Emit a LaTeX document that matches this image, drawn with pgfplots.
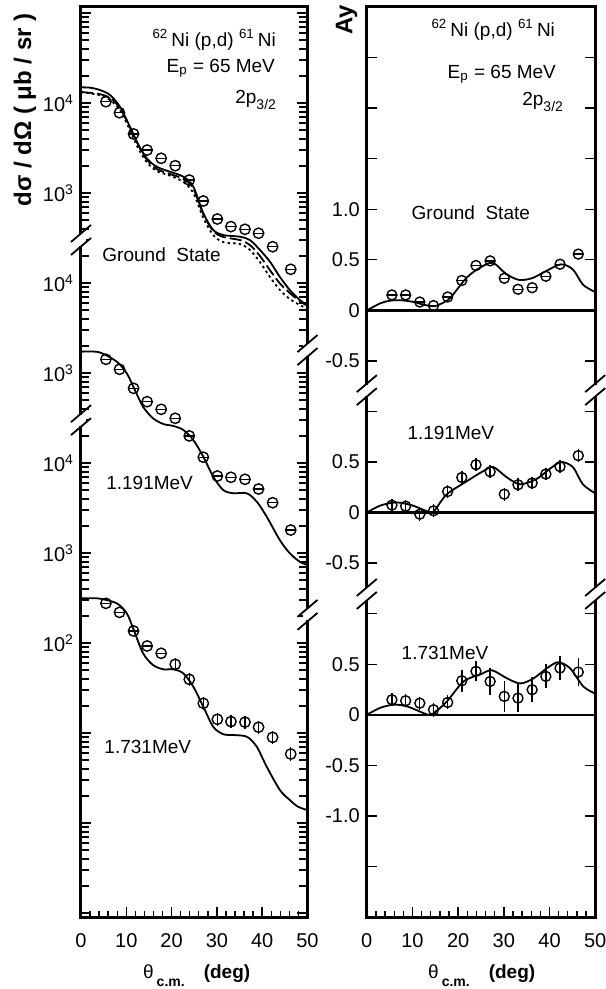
\documentclass[border=0pt]{standalone}
\usepackage{fontspec}
\setmainfont{Liberation Sans}
\usepackage{pgfplots}
\usepackage{pgfplotstable}
\pgfplotsset{compat=1.18}

% cross sections (mub/sr)
\pgfplotstableread{
th s
5.5 10330
8.5 7800
11.6 4530
14.6 3000
17.7 2430
20.8 2010
23.9 1394
27.0 815
30.1 514
33.1 423
36.2 395
39.2 357
42.3 253
46.3 142
}\gsxs
\pgfplotstableread{
th s
0 14930
2 14800
4.2 13930
6.4 12270
8.6 9100
10.8 5460
12.7 3415
14.5 2430
16.7 1960
19.6 1725
22.6 1518
24.8 1175
27.0 595
29.2 388
31.4 341
35.1 327
37.3 300
39.5 233
41.7 173
43.9 117
46.1 83.6
48.3 64.7
50 57
}\gssolid
\pgfplotstableread{
th s
0 13250
4 12590
6.4 11370
8.6 8800
10.8 5350
12.7 3370
14.5 2357
16.7 1848
19.6 1626
22.6 1431
24.8 1122
27.0 584
29.2 378
31.4 325
35.1 300
37.3 264
39.5 200
41.7 139
43.9 99
46.1 77.4
48.3 63
50 55.5
}\gsdash
\pgfplotstableread{
th s
0 13250
4 12270
6.4 10790
8.6 8360
10.8 5010
12.7 3085
14.5 2210
16.7 1755
19.6 1564
22.6 1326
24.8 1000
27.0 528
29.2 341
31.4 285
35.1 271
37.3 233
39.5 171
41.7 117
43.9 83.6
46.1 66.4
48.3 57
50 51.4
}\gsdot
\pgfplotstableread{
th s
5.5 1420
8.5 1100
11.6 676
14.6 480
17.7 395
20.8 314
23.9 200
27.0 116
30.1 71.7
33.1 69.4
36.2 65.9
39.2 51.4
42.3 36.2
46.3 18
}\ixs
\pgfplotstableread{
th s
0 1725
4 1700
7.9 1336
10.1 993
11.9 647
13.7 422
15.9 314
18.2 271
20.4 258
22.6 233
24.8 180
27.0 117.5
29.2 70.4
31.4 50.1
33.6 46.1
36.6 46.1
38.8 37.2
41.0 25.3
43.9 13.9
46.1 9.93
48.3 8.0
50 7.35
}\icurve
\pgfplotstableread{
th s
5.5 276
8.5 219
11.6 136
14.6 92.7
17.7 76.9
20.8 58
23.9 39.5
27.0 21.4
30.1 14.2
33.1 13.4
36.2 13.2
39.2 11.6
42.3 8.95
46.3 5.84
}\iixs
\pgfplotstableread{
th s
0 314
4 312
7.9 276
10.1 214
11.5 146
13.7 77
15.9 57
18.2 51
20.4 51
22.6 46
24.8 32.7
27.0 19.6
29.2 11.7
31.4 9.7
33.6 9.5
36.6 9.1
38.8 7.05
41.0 4.22
43.9 2.33
46.1 1.8
47.9 1.52
50 1.39
}\iicurve

% analysing powers
\pgfplotstableread{
th ay
5.5 0.152
8.5 0.152
11.6 0.082
14.6 0.047
17.7 0.132
20.8 0.295
23.9 0.443
27.0 0.489
30.1 0.317
33.1 0.208
36.2 0.224
39.2 0.337
42.3 0.456
46.3 0.556
}\gsay
\pgfplotstableread{
th ay
0 0
3 0.07
5 0.095
7.3 0.1
10 0.085
12.5 0.055
14.6 0.04
16 0.06
18.2 0.12
21.8 0.32
24.7 0.42
27.6 0.47
30.5 0.36
33.4 0.30
36.3 0.32
39.3 0.39
42.5 0.455
45.1 0.405
47.3 0.255
49.6 0.19
50 0.185
}\gsaycurve
\pgfplotstableread{
th ay
5.5 0.073
8.5 0.063
11.6 -0.016
14.6 0.017
17.7 0.208
20.8 0.347
23.9 0.473
27.0 0.404
30.1 0.182
33.1 0.275
36.2 0.292
39.2 0.381
42.3 0.454
46.3 0.563
}\iay
\pgfplotstableread{
th ay
0 0
3 0.07
6.5 0.1
10 0.07
14 0.0
15 0.03
17.5 0.18
21.9 0.31
25.5 0.41
27.7 0.45
30.6 0.35
33.5 0.28
37.1 0.33
40 0.43
42.5 0.5
45.1 0.45
47.3 0.28
50 0.19
}\iaycurve
\pgfplotstableread{
th ay e
5.5 0.149 0.025
8.5 0.139 0.025
11.6 0.115 0.025
14.6 0.050 0.03
17.7 0.122 0.03
20.8 0.337 0.07
23.9 0.43 0.06
27.0 0.33 0.09
30.1 0.182 0.11
33.1 0.165 0.10
36.2 0.248 0.085
39.2 0.38 0.08
42.3 0.462 0.08
46.3 0.423 0.10
}\iiay
\pgfplotstableread{
th ay
0 0
3 0.07
6 0.1
9 0.08
13.5 0.0
15 0.03
17.5 0.13
21.2 0.33
24.9 0.40
27.4 0.44
30.7 0.36
33.6 0.31
36.5 0.36
39.4 0.46
41.9 0.52
44.5 0.46
47.4 0.28
50 0.21
}\iiaycurve

\pgfplotsset{
  panel/.style={
    scale only axis, height=455pt, xmin=0, xmax=50, clip=false,
    axis line style={line width=1.5pt},
    xtick={0,10,...,50}, minor xtick={2,4,...,48}, xtick pos=left,
    tick align=inside, major tick length=5pt, minor tick length=2.8pt,
    tick style={line width=0.7pt, black},
    /pgf/number format/assume math mode=true,
    tick label style={font=\fontsize{10}{12}\selectfont},
    xticklabel style={yshift=-4.5pt},
  },
  curve/.style={black, line width=0.9pt, smooth, no marks},
  opn/.style={black, only marks, mark=o, mark size=2.6pt, mark options={line width=0.7pt}},
  hbar/.style={black, only marks, mark=-, mark size=2.6pt, mark options={line width=0.7pt}},
  vbar/.style={black, only marks, mark=|, mark size=3.3pt, mark options={line width=0.7pt}},
}

% axis break mark at a named coordinate
\newcommand{\brk}[1]{%
  \fill[white] ([xshift=-2.4pt,yshift=-2.8pt]#1) rectangle ([xshift=2.4pt,yshift=2.8pt]#1);
  \draw[line width=0.9pt] ([xshift=-5pt,yshift=-7.5pt]#1) -- ([xshift=5pt,yshift=1pt]#1);
  \draw[line width=0.9pt] ([xshift=-5pt,yshift=-1pt]#1) -- ([xshift=5pt,yshift=7.5pt]#1);}

\begin{document}
\begin{tikzpicture}[font=\fontsize{9.5}{11}\selectfont]
\useasboundingbox (0pt,0pt) rectangle (302.5pt,-494.5pt);

% left panel: cross sections, stacked decades
\begin{axis}[panel, at={(40.5pt,-3.5pt)}, anchor=north west, width=113.25pt,
  ymode=log, ymin=0.0903, ymax=1.166e9,
  ytick={1e-1,1,10,100,1000,1e4,1e5,1e6,1e7,1e8,1e9},
  yticklabels={,,,10\textsuperscript{2},10\textsuperscript{3},10\textsuperscript{4},10\textsuperscript{3},10\textsuperscript{4},10\textsuperscript{3},10\textsuperscript{4},}]
\addplot[curve] table[x=th, y expr=\thisrow{s}*1e4] \gssolid;
\addplot[curve, dash pattern=on 6pt off 2pt] table[x=th, y expr=\thisrow{s}*1e4] \gsdash;
\addplot[curve, dash pattern=on 1.2pt off 1.6pt] table[x=th, y expr=\thisrow{s}*1e4] \gsdot;
\addplot[opn] table[x=th, y expr=\thisrow{s}*1e4] \gsxs;
\addplot[hbar] table[x=th, y expr=\thisrow{s}*1e4] \gsxs;
\addplot[curve] table[x=th, y expr=\thisrow{s}*100] \icurve;
\addplot[opn] table[x=th, y expr=\thisrow{s}*100] \ixs;
\addplot[hbar] table[x=th, y expr=\thisrow{s}*100] \ixs;
\addplot[curve] table[x=th, y=s] \iicurve;
\addplot[opn] table[x=th, y=s] \iixs;
\addplot[hbar, restrict x to domain=0:19] table[x=th, y=s] \iixs;
\addplot[vbar, restrict x to domain=19:50] table[x=th, y=s] \iixs;
\coordinate (LA) at (rel axis cs:0,0.744);
\coordinate (LB) at (rel axis cs:0,0.546);
\coordinate (LC) at (rel axis cs:1,0.623);
\coordinate (LD) at (rel axis cs:1,0.332);
\coordinate (LBL) at (rel axis cs:0,0);
\coordinate (LBR) at (rel axis cs:1,0);
\end{axis}

% log minor ticks of the left panel, 45pt per decade, from ymin = 10^-1.0443
\foreach \e in {-1,0,1,2,3,4,5,6,7,8}{%
  \foreach \m in {2,3,4,5,6,7,8,9}{%
    \pgfmathsetmacro\yy{(\e+log10(\m)+1.0443)*45}%
    \draw[black, line width=0.8pt] ([yshift=\yy pt]LBL) -- ++(4pt,0);
    \draw[black, line width=0.8pt] ([yshift=\yy pt]LBR) -- ++(-4pt,0);
  }}

% right panel: analysing powers, offset by 4 and 2
\begin{axis}[panel, at={(183.4pt,-3.5pt)}, anchor=north west, width=114.2pt,
  ymin=-2, ymax=7,
  ytick={-1.5,-1,-0.5,0,0.5,1,1.5,2,2.5,3,3.5,4,4.5,5,5.5,6,6.5},
  yticklabels={,-1.0,-0.5,0,0.5,,-0.5,0,0.5,,-0.5,0,0.5,1.0,,,}]
\addplot[black, line width=1.2pt, no marks] coordinates {(0,4) (50,4)};
\addplot[black, line width=1.2pt, no marks] coordinates {(0,2) (50,2)};
\addplot[black, line width=1.2pt, no marks] coordinates {(0,0) (50,0)};
\addplot[curve] table[x=th, y expr=\thisrow{ay}+4] \gsaycurve;
\addplot[opn, mark size=2.5pt] table[x=th, y expr=\thisrow{ay}+4] \gsay;
\addplot[hbar, mark size=2.5pt] table[x=th, y expr=\thisrow{ay}+4] \gsay;
\addplot[curve] table[x=th, y expr=\thisrow{ay}+2] \iaycurve;
\addplot[opn, mark size=2.5pt] table[x=th, y expr=\thisrow{ay}+2] \iay;
\addplot[vbar, mark size=3.2pt] table[x=th, y expr=\thisrow{ay}+2] \iay;
\addplot[curve] table[x=th, y=ay] \iiaycurve;
\addplot[opn, mark size=2.5pt, error bars/.cd, y dir=both, y explicit,
  error mark=-, error mark options={mark size=2pt, line width=0.7pt},
  error bar style={line width=0.7pt}] table[x=th, y=ay, y error=e] \iiay;
\coordinate (RA) at (rel axis cs:0,0.579);
\coordinate (RB) at (rel axis cs:0,0.355);
\coordinate (RC) at (rel axis cs:1,0.579);
\coordinate (RD) at (rel axis cs:1,0.355);
\end{axis}

\brk{LA}\brk{LB}\brk{LC}\brk{LD}
\brk{RA}\brk{RB}\brk{RC}\brk{RD}

% left panel text
\node[anchor=east] at (141.5pt,-20pt) {\textsuperscript{62}\,Ni (p,d) \textsuperscript{61}\,Ni};
\node[anchor=east] at (141pt,-34pt) {E\textsubscript{p} = 65 MeV};
\node[anchor=east] at (141.5pt,-50pt) {2p\raisebox{-3pt}{\scriptsize 3/2}};
\node at (80.8pt,-127.5pt) {Ground\ \ State};
\node at (74.8pt,-241.5pt) {1.191MeV};
\node at (73.9pt,-373.3pt) {1.731MeV};
\node[rotate=90, font=\bfseries\fontsize{12}{14}\selectfont] at (12.5pt,-55pt) {dσ / dΩ ( μb / sr )};
\node[anchor=base] at (98.3pt,-489.3pt) {θ\,\raisebox{-4pt}{\scriptsize\bfseries c.m.}\quad\textbf{(deg)}};

% right panel text
\node[anchor=east] at (281pt,-15pt) {\textsuperscript{62}\,Ni (p,d) \textsuperscript{61}\,Ni};
\node[anchor=east] at (281.5pt,-37pt) {E\textsubscript{p} = 65 MeV};
\node[anchor=east] at (285pt,-51pt) {2p\raisebox{-3pt}{\scriptsize 3/2}};
\node at (235.4pt,-106.5pt) {Ground\ \ State};
\node at (225.4pt,-216.7pt) {1.191MeV};
\node at (222.5pt,-326.7pt) {1.731MeV};
\node[rotate=90, font=\bfseries\fontsize{12}{14}\selectfont] at (173.3pt,-10pt) {Ay};
\node[anchor=base] at (240.8pt,-489.3pt) {θ\,\raisebox{-4pt}{\scriptsize\bfseries c.m.}\quad\textbf{(deg)}};
\end{tikzpicture}
\end{document}
